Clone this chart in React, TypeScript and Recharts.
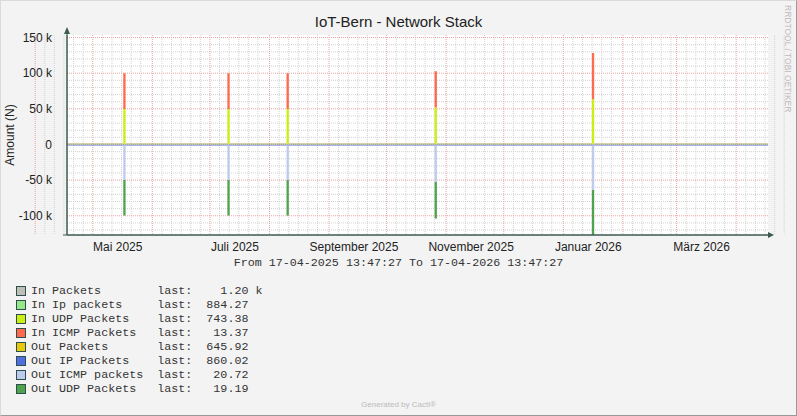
import { ComposedChart, Area, XAxis, YAxis, CartesianGrid } from 'recharts';

const DAY = 86400000;
const START = Date.UTC(2025, 3, 17, 13, 47, 27);
const END = Date.UTC(2026, 3, 17, 13, 47, 27);
const SPAN = (END - START) / DAY;
const toDay = (y: number, m: number, d: number) => (Date.UTC(y, m, d) - START) / DAY;

// series, legend order
const inNames = ['In Packets', 'In Ip packets', 'In UDP Packets', 'In ICMP Packets'];
const outNames = ['Out Packets', 'Out IP Packets', 'Out ICMP packets', 'Out UDP Packets'];
const inLastText = ['1.20 k', '884.27', '743.38', '13.37'];
const outLastText = ['645.92', '860.02', '20.72', '19.19'];

// usual level between the spikes (barely a pixel on this scale)
const inBase = [350, 1000, 200, 13];
const outBase = [300, 1000, 21, 19];

// spikes, in days after the start of the graph
const spikeDays = [29.3, 83.5, 114.3, 191.4, 273.3];
const spikeLen = 1.2;
const spikeInUdp = [48500, 48500, 48500, 51000, 62000];
const spikeInIcmp = [50000, 50000, 50000, 50500, 65000];
const spikeOutIcmp = [48500, 48500, 48500, 51500, 62500];
const spikeOutUdp = [50000, 50000, 50000, 51000, 70000];

// x axis labels (year, month index, day)
const tickLabels = ['Mai 2025', 'Juli 2025', 'September 2025', 'November 2025', 'Januar 2026', 'März 2026'];
const tickDates = [[2025, 4, 14], [2025, 6, 14], [2025, 8, 14], [2025, 10, 14], [2026, 0, 14], [2026, 2, 14]];
const yTicks = [-100000, -50000, 0, 50000, 100000, 150000];

const inColors = ['#BEBEB6', '#96E78A', '#CCEE11', '#FF6A4C'];
const outColors = ['#E8C80E', '#4F6FE0', '#BFCBEE', '#4FA34F'];
const inKeys = ['inPk', 'inIp', 'inUdp', 'inIcmp'];
const outKeys = ['outPk', 'outIp', 'outIcmp', 'outUdp'];

const baseRow = (t: number) => {
  const r: any = { t };
  inKeys.forEach((k, i) => (r[k] = inBase[i]));
  outKeys.forEach((k, i) => (r[k] = -outBase[i]));
  return r;
};

const rows: any[] = [baseRow(0)];
spikeDays.forEach((d, i) => {
  rows.push({ ...baseRow(d), inUdp: spikeInUdp[i], inIcmp: spikeInIcmp[i], outIcmp: -spikeOutIcmp[i], outUdp: -spikeOutUdp[i] });
  rows.push(baseRow(d + spikeLen));
});
rows.push(baseRow(SPAN));

// grid
const monthStarts: number[] = [];
const minorX: number[] = [];
for (let i = 0; i < 13; i++) {
  const y = 2025 + Math.floor((3 + i) / 12);
  const m = (3 + i) % 12;
  monthStarts.push(toDay(y, m, 1));
  [6, 11, 16, 21, 26].forEach((d) => minorX.push(toDay(y, m, d)));
}
const majorY = [-100000, -50000, 0, 50000, 100000, 150000];
const minorY: number[] = [];
for (let v = -120000; v <= 150000; v += 10000) if (v % 50000 !== 0) minorY.push(v);

const tickDays = tickDates.map(([y, m, d]) => toDay(y, m, d));
const fmtX = (v: number) => tickLabels[tickDays.indexOf(v)] ?? '';
const fmtY = (v: number) => (v === 0 ? '0' : `${v / 1000} k`);

const AXIS = '#3A5A4F';
const sans = '"Liberation Sans", Arial, sans-serif';
const mono = '"Liberation Mono", "Courier New", monospace';

const pad = (s: string, n: number) => s + ' '.repeat(Math.max(0, n - s.length));
const legendLine = (name: string, val: string) => pad(name, 18) + 'last:' + ' '.repeat(Math.max(0, 8 - val.replace(' k', '').length)) + val;

export default function App() {
  const legend = [
    ...inNames.map((n, i) => ({ name: n, color: inColors[i], text: legendLine(n, inLastText[i]) })),
    ...outNames.map((n, i) => ({ name: n, color: outColors[i], text: legendLine(n, outLastText[i]) })),
  ];
  return (
    <div style={{ position: 'relative', width: 797, height: 416, background: '#F3F3F3', overflow: 'hidden' }}>
      <style>{'body{margin:0}'}</style>
      <div style={{ position: 'absolute', left: 0, top: 13, width: 797, textAlign: 'center', fontFamily: sans, fontSize: 15, color: '#222', lineHeight: '18px' }}>
        IoT-Bern - Network Stack
      </div>
      <ComposedChart
        width={797}
        height={416}
        data={rows}
        margin={{ top: 35, right: 29, bottom: 151, left: 8 }}
        style={{ position: 'absolute', left: 0, top: 0 }}
      >
        <CartesianGrid fill="#fff" fillOpacity={1} stroke="#D2D2D2" strokeDasharray="1 1" horizontalValues={minorY} verticalValues={minorX} />
        <CartesianGrid stroke="#EBA3A3" strokeDasharray="1 1" horizontalValues={majorY} verticalValues={monthStarts} />
        <XAxis
          type="number"
          dataKey="t"
          domain={[0, SPAN]}
          ticks={tickDays}
          interval={0}
          tickFormatter={fmtX}
          allowDataOverflow
          height={30}
          axisLine={{ stroke: AXIS }}
          tickLine={false}
          tickMargin={1}
          tick={{ fill: '#222', fontSize: 12, fontFamily: sans }}
        />
        <YAxis
          type="number"
          domain={[-127000, 153600]}
          ticks={yTicks}
          interval={0}
          tickFormatter={fmtY}
          allowDataOverflow
          width={59}
          axisLine={{ stroke: AXIS }}
          tickLine={false}
          tickMargin={9}
          tick={{ fill: '#222', fontSize: 12, fontFamily: sans }}
        />
        {inKeys.map((k, i) => (
          <Area key={k} dataKey={k} stackId="in" type="stepAfter" stroke="none" fill={inColors[i]} fillOpacity={1} isAnimationActive={false} dot={false} activeDot={false} />
        ))}
        {outKeys.map((k, i) => (
          <Area key={k} dataKey={k} stackId="out" type="stepAfter" stroke="none" fill={outColors[i]} fillOpacity={1} isAnimationActive={false} dot={false} activeDot={false} />
        ))}
      </ComposedChart>
      <svg width={797} height={416} style={{ position: 'absolute', left: 0, top: 0, pointerEvents: 'none' }}>
        <line x1={67} y1={235} x2={67} y2={31} stroke={AXIS} />
        <polygon points="64,34 70,34 67,27" fill={AXIS} />
        <line x1={63} y1={235} x2={770} y2={235} stroke={AXIS} />
        <polygon points="768,232 768,238 774,235" fill={AXIS} />
      </svg>
      <div style={{ position: 'absolute', left: 3, top: 135, width: 0, height: 0 }}>
        <div style={{ transform: 'translate(-50%, -50%) rotate(-90deg)', position: 'absolute', left: 7, top: 0, whiteSpace: 'nowrap', fontFamily: sans, fontSize: 12, color: '#222' }}>
          Amount (N)
        </div>
      </div>
      <div style={{ position: 'absolute', left: 0, top: 256, width: 797, textAlign: 'center', fontFamily: mono, fontSize: 11.7, color: '#333', lineHeight: '14px', whiteSpace: 'pre' }}>
        From 17-04-2025 13:47:27 To 17-04-2026 13:47:27
      </div>
      <div style={{ position: 'absolute', left: 16, top: 284 }}>
        {legend.map((l) => (
          <div key={l.name} style={{ display: 'flex', alignItems: 'center', height: 14 }}>
            <div style={{ width: 8, height: 8, background: l.color, border: '1px solid #2F4F4F', marginRight: 5 }} />
            <span style={{ fontFamily: mono, fontSize: 11.7, color: '#333', whiteSpace: 'pre', lineHeight: '14px' }}>{l.text}</span>
          </div>
        ))}
      </div>
      <div style={{ position: 'absolute', left: 0, top: 400, width: 797, textAlign: 'center', fontFamily: sans, fontSize: 8, color: '#BBB' }}>
        Generated by Cacti®
      </div>
      <div style={{ position: 'absolute', left: 788, top: 5, width: 0, height: 0 }}>
        <div style={{ transform: 'rotate(90deg)', transformOrigin: '0 0', position: 'absolute', left: 5, top: 0, whiteSpace: 'nowrap', fontFamily: sans, fontSize: 8.5, color: '#BBB' }}>
          RRDTOOL / TOBI OETIKER
        </div>
      </div>
      <div style={{ position: 'absolute', inset: 0, borderTop: '1px solid #DADADA', borderLeft: '1px solid #DADADA', borderRight: '1px solid #999', borderBottom: '1px solid #999', pointerEvents: 'none' }} />
    </div>
  );
}
